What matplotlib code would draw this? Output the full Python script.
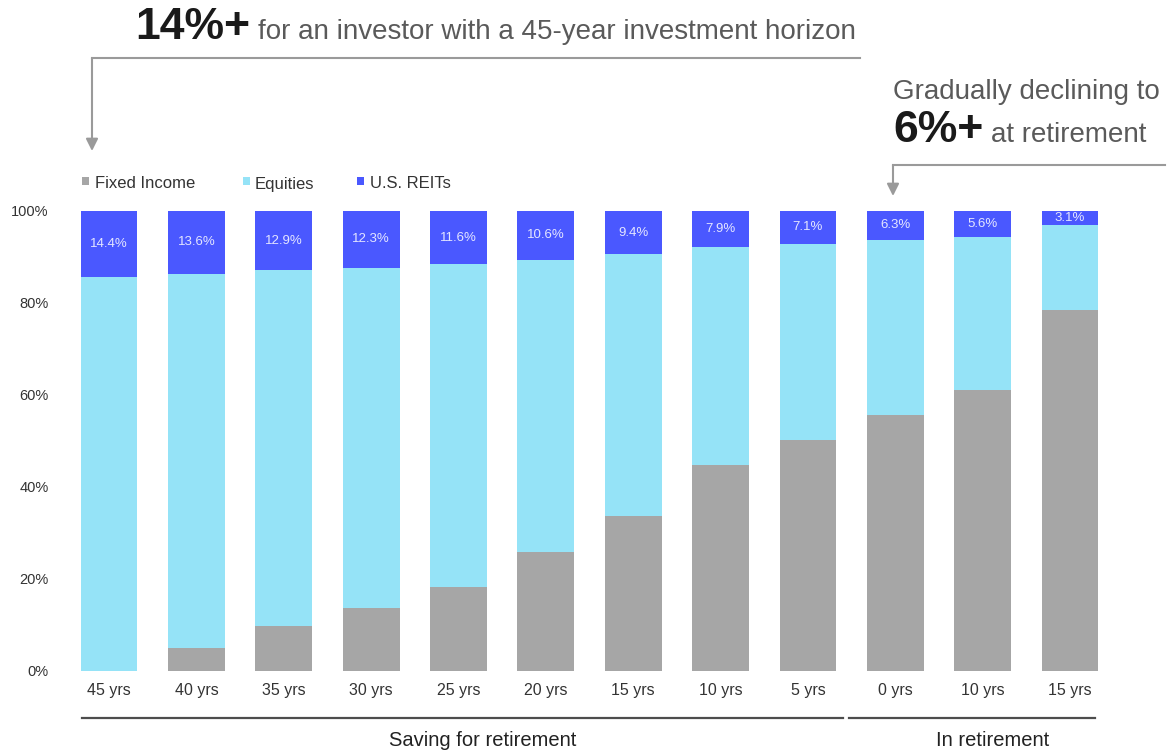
import matplotlib
matplotlib.use("Agg")
import matplotlib.pyplot as plt
from matplotlib.patches import Rectangle
from matplotlib.lines import Line2D

plt.rcParams["font.family"] = ["Liberation Sans", "DejaVu Sans"]

W, H = 1172, 753

horizons = ["45 yrs", "40 yrs", "35 yrs", "30 yrs", "25 yrs", "20 yrs",
            "15 yrs", "10 yrs", "5 yrs", "0 yrs", "10 yrs", "15 yrs"]
fixed_income = [0.0, 5.0, 9.8, 13.7, 18.3, 25.9, 33.7, 44.8, 50.2, 55.7, 61.1, 78.5]
equities = [85.6, 81.4, 77.3, 74.0, 70.1, 63.5, 56.9, 47.3, 42.7, 38.0, 33.3, 18.4]
reits = [14.4, 13.6, 12.9, 12.3, 11.6, 10.6, 9.4, 7.9, 7.1, 6.3, 5.6, 3.1]
y_ticks = [0, 20, 40, 60, 80, 100]

C_FI = "#a6a6a6"
C_EQ = "#95e3f7"
C_RE = "#4a58ff"
GREY_TXT = "#5a5a5a"


def fig_xy(x, y):
    # image pixel coords (origin top-left) -> figure fraction
    return x / W, 1 - y / H


fig = plt.figure(figsize=(W / 100, H / 100), dpi=100)
ax_l, ax_b = fig_xy(65.4, 671)
ax_r, ax_t = fig_xy(1113.7, 211)
ax = fig.add_axes([ax_l, ax_b, ax_r - ax_l, ax_t - ax_b])

x = list(range(len(horizons)))
bw = 0.65
ax.bar(x, fixed_income, bw, color=C_FI)
ax.bar(x, equities, bw, bottom=fixed_income, color=C_EQ)
eq_top = [f + e for f, e in zip(fixed_income, equities)]
ax.bar(x, reits, bw, bottom=eq_top, color=C_RE)

for xi, b, r in zip(x, eq_top, reits):
    ax.text(xi, b + r / 2, f"{r}%", ha="center", va="center",
            fontsize=9.5, color="#e4e6ff")

ax.set_xlim(-0.5, len(horizons) - 0.5)
ax.set_ylim(0, 100)
ax.set_xticks(x)
ax.set_xticklabels(horizons, fontsize=11.5, color="#333333")
ax.set_yticks(y_ticks)
ax.set_yticklabels([f"{t}%" for t in y_ticks], fontsize=10.5, color="#333333")
ax.tick_params(axis="x", length=0, pad=9)
ax.tick_params(axis="y", length=0, pad=12)
for s in ax.spines.values():
    s.set_visible(False)

# group brackets under the x axis
for x0, x1, label, xc in [(82, 843, "Saving for retirement", 483),
                          (849, 1095, "In retirement", 993)]:
    fig.add_artist(Line2D([x0 / W, x1 / W], [1 - 718 / H] * 2,
                          transform=fig.transFigure, color="#4d4d4d", lw=1.6))
    fig.text(*fig_xy(xc, 740), label, ha="center", va="center",
             fontsize=14.5, color="#222222")

# legend
for sx, tx, lab, col in [(82, 95, "Fixed Income", C_FI),
                         (243, 255, "Equities", C_EQ),
                         (357, 370, "U.S. REITs", C_RE)]:
    rx, ry = fig_xy(sx, 185)
    fig.add_artist(Rectangle((rx, ry), 7 / W, 8 / H, transform=fig.transFigure,
                             color=col, lw=0))
    fig.text(*fig_xy(tx, 184), lab, ha="left", va="center",
             fontsize=12, color="#333333")

renderer = fig.canvas.get_renderer()


def mixed_text(x0, y_base, bold, rest, bsize, rsize, gap=8):
    t = fig.text(*fig_xy(x0, y_base), bold, ha="left", va="baseline",
                 fontsize=bsize, fontweight="bold", color="#1a1a1a")
    bb = t.get_window_extent(renderer)
    fig.text(*fig_xy(x0 + bb.width + gap, y_base), rest, ha="left",
             va="baseline", fontsize=rsize, color=GREY_TXT)


# top-left callout
mixed_text(135, 39, "14%+", "for an investor with a 45-year investment horizon",
           32, 20)
fig.add_artist(Line2D([92 / W, 860 / W], [1 - 58 / H] * 2,
                      transform=fig.transFigure, color="#9a9a9a", lw=1.5))
ax.annotate("", xy=fig_xy(92, 151), xytext=fig_xy(92, 58),
            xycoords="figure fraction", textcoords="figure fraction",
            arrowprops=dict(arrowstyle="-|>", color="#9a9a9a", lw=1.5,
                            mutation_scale=18, shrinkA=0, shrinkB=0))

# right callout
fig.text(*fig_xy(893, 99), "Gradually declining to", ha="left", va="baseline",
         fontsize=20, color=GREY_TXT)
mixed_text(893, 142, "6%+", "at retirement", 32, 20)
fig.add_artist(Line2D([893 / W, 1165 / W], [1 - 165 / H] * 2,
                      transform=fig.transFigure, color="#9a9a9a", lw=1.5))
ax.annotate("", xy=fig_xy(893, 196), xytext=fig_xy(893, 165),
            xycoords="figure fraction", textcoords="figure fraction",
            arrowprops=dict(arrowstyle="-|>", color="#9a9a9a", lw=1.5,
                            mutation_scale=18, shrinkA=0, shrinkB=0))

fig.savefig("out.png", dpi=100)
